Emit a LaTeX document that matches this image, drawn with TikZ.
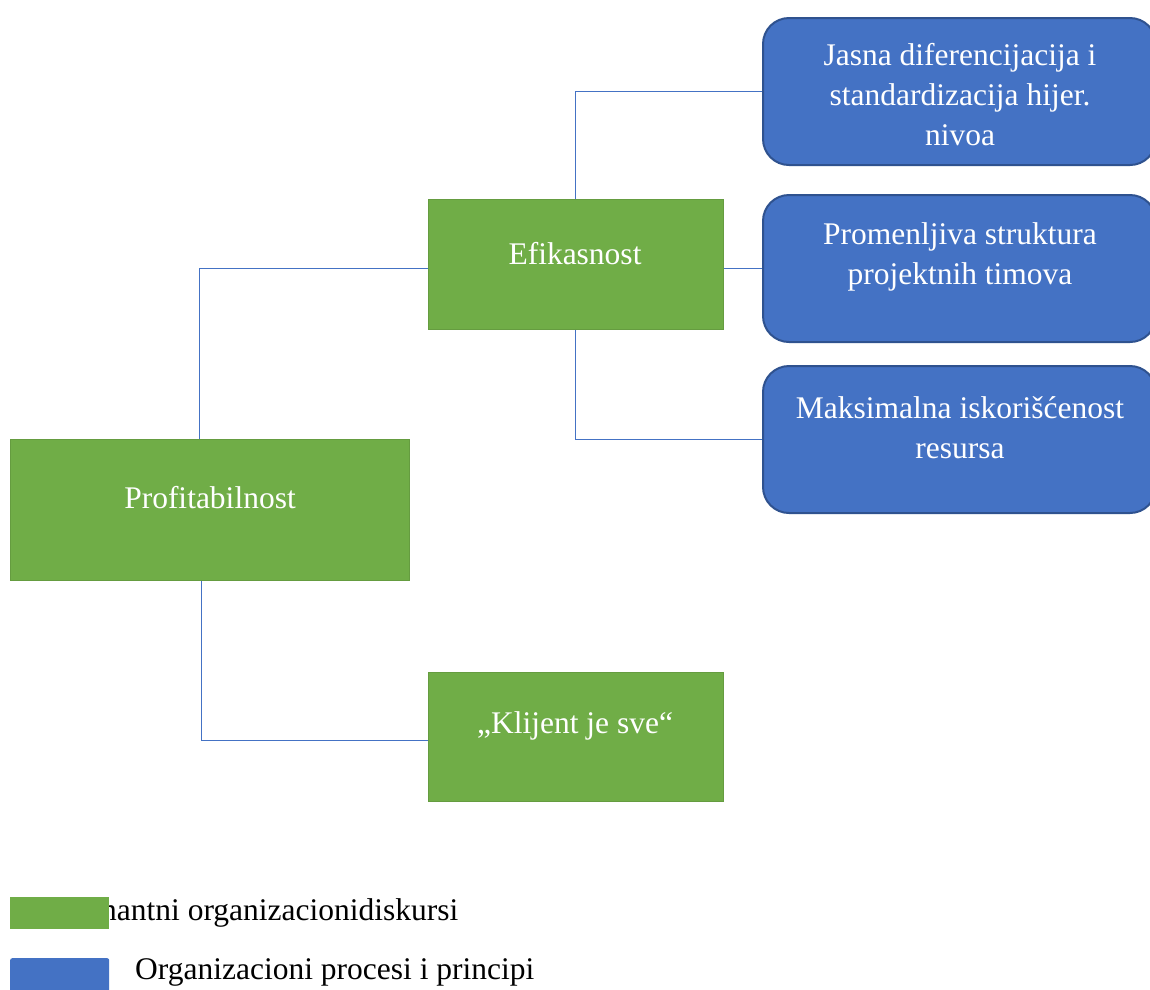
\documentclass[tikz,border=0pt]{standalone}
\usepackage{fontspec}
\setmainfont{Liberation Serif}
\definecolor{cgreen}{HTML}{70AD47}
\definecolor{cblue}{HTML}{4472C4}
\definecolor{cblueedge}{HTML}{2F528F}
\begin{document}
\begin{tikzpicture}[x=1pt,y=-1pt,
  gbox/.style={draw=cgreen!90!black,line width=0.6pt,fill=cgreen,inner sep=0pt,anchor=north west},
  bbox/.style={draw=cblueedge,line width=2pt,fill=cblue,rounded corners=26pt,inner sep=0pt,anchor=north west,minimum width=393pt,minimum height=147pt},
  txt/.style={text=white,font=\fontsize{31.5}{40}\selectfont,align=center,inner sep=0pt},
  legtxt/.style={text=black,font=\fontsize{31.5}{40}\selectfont,inner sep=0pt,anchor=west},
  conn/.style={draw=cblue,line width=1.2pt}]
\useasboundingbox (0,0) rectangle (1150,989);
\fill[white] (0,0) rectangle (1150,989);
% green boxes
\node[gbox,minimum width=399pt,minimum height=141pt] (prof) at (10,439) {};
\node[gbox,minimum width=295pt,minimum height=130pt] (efi) at (428,199) {};
\node[gbox,minimum width=295pt,minimum height=129pt] (kli) at (428,672) {};
% blue boxes
\node[bbox] (b1) at (762,17) {};
\node[bbox] (b2) at (762,194) {};
\node[bbox] (b3) at (762,365) {};
% texts
\node[txt] (tprof) at (210,498) {Profitabilnost};
\node[txt] (tefi) at (575,254) {Efikasnost};
\node[txt] (tkli) at (575,726) {„Klijent je sve“};
\node[txt] (tb1) at (960,95) {Jasna diferencijacija i\\standardizacija hijer.\\nivoa};
\node[txt] (tb2) at (960,257) {Promenljiva struktura\\projektnih timova};
\node[txt] (tb3) at (960,428) {Maksimalna iskorišćenost\\resursa};
% connectors
\draw[conn] ([xshift=-10pt]prof.north) |- ([yshift=-4pt]efi.west);
\draw[conn] ([xshift=-8pt]prof.south) |- ([yshift=-4pt]kli.west);
\draw[conn] (efi.north) |- (b1.west);
\draw[conn] ([yshift=-4pt]efi.east) -- ([yshift=-4pt]efi.east -| b2.west);
\draw[conn] (efi.south) |- (b3.west);
% legend
\node[legtxt] (l1) at (101,913) {nantni organizacionidiskursi};
\node[fill=cgreen,inner sep=0pt,minimum width=99pt,minimum height=32pt,anchor=north west] (lg) at (10,897) {};
\node[fill=cblue,rounded corners=2pt,inner sep=0pt,minimum width=99pt,minimum height=36pt,anchor=north west] (lb) at (10,958) {};
\node[legtxt] (l2) at (135,972) {Organizacioni procesi i principi};
\end{tikzpicture}
\end{document}
